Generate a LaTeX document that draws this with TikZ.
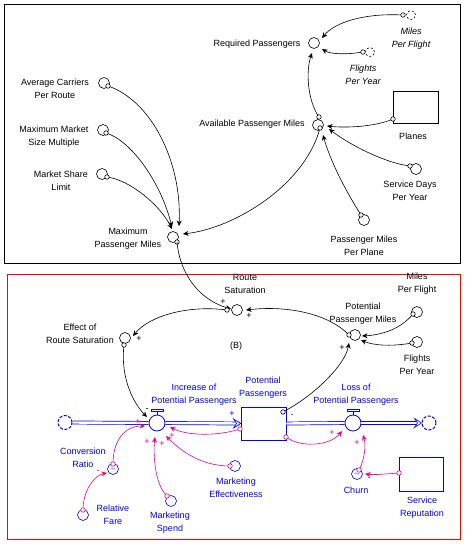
\documentclass[tikz,border=0pt]{standalone}
\usepackage{fontspec}
\setmainfont{Liberation Sans}
\usetikzlibrary{arrows.meta,calc}
\definecolor{sdblue}{RGB}{0,0,255}
\definecolor{sdpink}{RGB}{240,0,130}
\definecolor{sdred}{RGB}{255,0,0}
\tikzset{
 lbl/.style={font=\fontsize{9}{13}\selectfont, align=center, inner sep=0pt},
 blbl/.style={lbl, text=sdblue},
 aux/.style={circle, draw, minimum size=11pt, inner sep=0pt, line width=0.6pt},
 baux/.style={aux, draw=sdblue},
 ghost/.style={circle, draw, minimum size=9pt, inner sep=0pt, line width=0.6pt, dash pattern=on 2pt off 2pt},
 att/.style={circle, draw, minimum size=4.5pt, inner sep=0pt, line width=0.6pt, fill=white},
 patt/.style={att, draw=sdpink},
 conn/.style={line width=0.6pt, -{Stealth[length=5.5pt,width=5pt]}},
 pconn/.style={conn, draw=sdpink},
 sgn/.style={font=\fontsize{9}{9}\selectfont, inner sep=0pt},
 psgn/.style={sgn, text=sdpink},
 valve/.style={circle, draw=sdblue, minimum size=16pt, inner sep=0pt, line width=0.8pt, fill=white},
 cloud/.style={circle, draw=sdblue, minimum size=14pt, inner sep=0pt, line width=1pt, dash pattern=on 3pt off 1.6pt},
 pipe/.style={draw=sdblue, line width=0.7pt, double=white, double distance=2.4pt},
}
\begin{document}
\begin{tikzpicture}[x=1pt,y=-1pt]
\useasboundingbox (0,0) rectangle (465,545);
% frames
\draw[line width=0.8pt] (4,4) rectangle (460,263);
\draw[sdred, line width=0.8pt] (7,274) rectangle (460,539);

% ---------- top section ----------
\node[aux] (acpr) at (104,83) {};
\node[aux] (mmsm) at (103,130) {};
\node[aux] (msl) at (102,174) {};
\node[aux] (mpm) at (173,237) {};
\node[aux] (rp) at (314,43) {};
\node[ghost] (mpfg) at (411,15) {};
\node[ghost] (fpyg) at (370,52) {};
\node[aux] (apm) at (318,125) {};
\node[draw, line width=0.6pt, minimum width=45pt, minimum height=32pt, inner sep=0pt] (planes) at (415.5,107) {};
\node[aux] (sdpy) at (416,169) {};
\node[aux] (pmpp) at (364,220) {};

\node[lbl] (acprl) at (55,88.5) {Average Carriers\\Per Route};
\node[lbl] (mmsml) at (54,136.5) {Maximum Market\\Size Multiple};
\node[lbl] (msll) at (61,180.5) {Market Share\\Limit};
\node[lbl] (mpml) at (128,238.5) {Maximum\\Passenger Miles};
\node[lbl] (rpl) at (257,44) {Required Passengers};
\node[lbl, font=\fontsize{9}{13}\selectfont\itshape] (mpfgl) at (411,38.5) {Miles\\Per Flight};
\node[lbl, font=\fontsize{9}{13}\selectfont\itshape] (fpygl) at (363,74.5) {Flights\\Per Year};
\node[lbl] (apml) at (252,124) {Available Passenger Miles};
\node[lbl] (planesl) at (413,136) {Planes};
\node[lbl] (sdpyl) at (410,190.5) {Service Days\\Per Year};
\node[lbl] (pmppl) at (364,245.5) {Passenger Miles\\Per Plane};

% connector end points
\coordinate (a1) at (108,86);
\coordinate (a2) at (106,133);
\coordinate (a3) at (107,177);
\coordinate (a4) at (320,128);
\coordinate (a5) at (403,15);
\coordinate (a6) at (363,52);
\coordinate (a7) at (319,117);
\coordinate (a8) at (393,119);
\coordinate (a9) at (410,166);
\coordinate (a10) at (361,215);
\coordinate (a11) at (177,242);

\draw[conn] (a1) .. controls (150,100) and (182,160) .. (179,226);
\draw[conn] (a2) .. controls (130,140) and (160,180) .. (172,227);
\draw[conn] (a3) .. controls (130,180) and (160,205) .. (172,229);
\draw[conn] (a4) .. controls (305,185) and (235,228) .. (183,234);
\draw[conn] (a5) .. controls (365,13) and (335,22) .. (322,38);
\draw[conn] (a6) .. controls (345,55) and (330,54) .. (322,49);
\draw[conn] (a7) .. controls (307,100) and (306,70) .. (312,53);
\draw[conn] (a8) .. controls (375,127) and (345,128) .. (327,126);
\draw[conn] (a9) .. controls (385,163) and (350,145) .. (329,129);
\draw[conn] (a10) .. controls (345,190) and (330,160) .. (323,135);

\foreach \p in {a1,a2,a3,a4,a5,a6,a7,a8,a9,a10,a11} \node[att] at (\p) {};

% ---------- bottom section ----------
\node[aux] (rs) at (237,310) {};
\node[aux] (ers) at (125,338) {};
\node[aux] (ppm) at (355,335) {};
\node[aux] (mpf) at (417,312) {};
\node[aux] (fpy) at (417,342) {};

\node[lbl] (rsl) at (245,283.5) {Route\\Saturation};
\node[lbl] (ersl) at (80,333.5) {Effect of\\Route Saturation};
\node[lbl] (ppml) at (363,313.5) {Potential\\Passenger Miles};
\node[lbl] (mpfl) at (417,284) {Miles\\Per Flight};
\node[lbl] (fpyl) at (417,364.5) {Flights\\Per Year};
\node[lbl] (loop) at (236,346) {(B)};

% stock and flows
\node[draw=sdblue, line width=0.8pt, minimum width=45pt, minimum height=33pt, inner sep=0pt] (stock) at (263.5,423.5) {};
\node[cloud] (src) at (65,422.5) {};
\node[cloud] (sink) at (429,423) {};
\node[valve] (incv) at (157,423) {};
\node[valve] (lossv) at (353,423) {};
\draw[pipe] (src.east) -- (incv.west);
\draw[pipe] (incv.east) -- ($(stock.west)+(-1,0)$);
\draw[pipe] (stock.east) -- (lossv.west);
\draw[pipe] (lossv.east) -- ($(sink.west)+(-3,0)$);
\foreach \t in {stock.west, sink.west} {
  \draw[sdblue, line width=0.6pt, fill=white] ($(\t)+(-7,-4.5)$) -- ($(\t)+(0,0)$) -- ($(\t)+(-7,4.5)$) -- ($(\t)+(-4,0)$) -- cycle;
}
\foreach \v in {incv, lossv} {
  \draw[sdblue, line width=0.8pt] (\v.north) -- ++(0,-3);
  \draw[sdblue, line width=0.6pt, fill=white] ($(\v.north)+(-6,-3)$) rectangle ($(\v.north)+(6,-5.5)$);
}

\node[blbl] (incvl) at (194,394.5) {Increase of\\Potential Passengers};
\node[blbl] (stockl) at (263,387.5) {Potential\\Passengers};
\node[blbl] (lossvl) at (356,394.5) {Loss of\\Potential Passengers};

\node[baux] (cr) at (113,469) {\fontsize{6}{6}\selectfont\color{sdblue}$\sim$};
\node[baux] (rf) at (83,515) {};
\node[baux] (ms) at (171,501) {};
\node[baux] (me) at (235,466) {};
\node[baux] (churn) at (357,474) {\fontsize{6}{6}\selectfont\color{sdblue}$\sim$};
\node[draw=sdblue, line width=0.8pt, minimum width=44pt, minimum height=34pt, inner sep=0pt] (sr) at (421,474) {};

\node[blbl] (crl) at (83,457.5) {Conversion\\Ratio};
\node[blbl] (rfl) at (113,514.5) {Relative\\Fare};
\node[blbl] (msl2) at (170,522.5) {Marketing\\Spend};
\node[blbl] (mel) at (236,488) {Marketing\\Effectiveness};
\node[blbl] (churnl) at (356,490) {Churn};
\node[blbl] (srl) at (422,507.5) {Service\\Reputation};

% black connectors
\coordinate (b1) at (227,310);
\coordinate (b2) at (124,345);
\coordinate (b3) at (349,335);
\coordinate (b4) at (413,314);
\coordinate (b5) at (412,343);
\coordinate (b6) at (283,412);

\draw[conn] (a11) .. controls (180,275) and (200,300) .. (231,309);
\draw[conn] (b1) .. controls (190,305) and (150,315) .. (133,336);
\draw[conn] (b2) .. controls (120,380) and (135,405) .. (147,417);
\draw[conn] (b3) .. controls (330,315) and (290,305) .. (246,310);
\draw[conn] (b4) .. controls (400,330) and (380,335) .. (362,336);
\draw[conn] (b5) .. controls (390,347) and (372,345) .. (361,340);
\draw[conn] (b6) .. controls (315,395) and (345,365) .. (349,343);
\foreach \p in {b1,b2,b3,b4,b5,b6} \node[att] at (\p) {};

% pink connectors
\coordinate (p1) at (240,429);
\coordinate (p2) at (113,464);
\coordinate (p3) at (83,510);
\coordinate (p4) at (167,496);
\coordinate (p5) at (230,466);
\coordinate (p6) at (286,437);
\coordinate (p7) at (359,470);
\coordinate (p8) at (399,473);

\draw[pconn] (p1) .. controls (215,437) and (185,435) .. (170,427);
\draw[pconn] (p2) .. controls (113,440) and (125,426) .. (145,426);
\draw[pconn] (p3) .. controls (83,490) and (95,475) .. (107,473);
\draw[pconn] (p4) .. controls (155,485) and (153,455) .. (155,437);
\draw[pconn] (p5) .. controls (200,466) and (180,450) .. (166,436);
\draw[pconn] (p6) .. controls (300,448) and (330,446) .. (342,431);
\draw[pconn] (p7) .. controls (365,458) and (366,445) .. (363,435);
\draw[pconn] (p8) .. controls (385,474) and (375,475) .. (365,474);
\foreach \p in {p1,p2,p3,p4,p5,p6,p7,p8} \node[patt] at (\p) {};

% polarity signs
\node[sgn] (s1) at (223,302) {+};
\node[sgn] (s2) at (249,316) {+};
\node[sgn] (s3) at (139,339) {+};
\node[sgn] (s4) at (147,410) {-};
\node[sgn] (s5) at (342,348) {+};
\node[sgn, text=sdblue] (s6) at (232,414) {+};
\node[sgn, text=sdblue] (s7) at (292,416) {-};
\node[psgn] (s8) at (138,422) {+};
\node[psgn] (s9) at (147,442) {+};
\node[psgn] (s10) at (162,444) {+};
\node[psgn] (s11) at (172,436) {+};
\node[psgn] (s12) at (98,472) {-};
\node[psgn] (s13) at (332,433) {+};
\node[psgn] (s14) at (357,443) {+};
\node[psgn] (s15) at (369,479) {-};
\end{tikzpicture}
\end{document}
